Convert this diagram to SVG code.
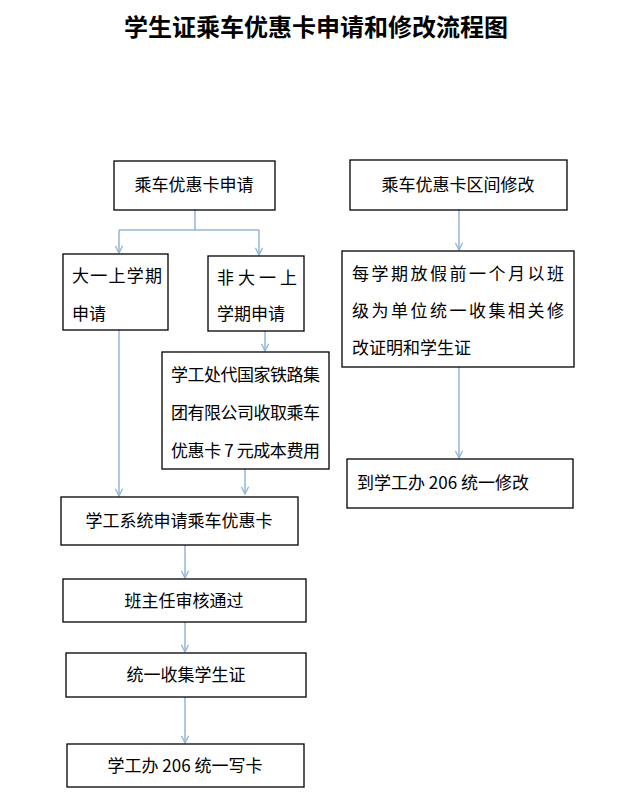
<svg xmlns="http://www.w3.org/2000/svg" width="640" height="807" viewBox="0 0 640 807">
<style>
.b{fill:#fff;stroke:#000;stroke-width:1.3}
.t{font-family:"Noto Sans CJK SC","Liberation Sans",sans-serif;font-size:17px;fill:#000}
.c{stroke:#94b6d8;stroke-width:1.5;fill:none}
</style>
<defs><marker id="a" viewBox="0 0 10 10" refX="9" refY="5" markerWidth="9" markerHeight="9" markerUnits="userSpaceOnUse" orient="auto"><path d="M1 1L9 5L1 9" fill="none" stroke="#94b6d8" stroke-width="1.5"/></marker></defs>
<rect width="640" height="807" fill="#fff"/>
<text x="316" y="36" text-anchor="middle" font-family="Noto Sans CJK SC,sans-serif" font-size="24" font-weight="bold">学生证乘车优惠卡申请和修改流程图</text>
<g id="connectors" class="c">
<path d="M195 210V230M119 230H259M119 230V253" marker-end="url(#a)"/>
<path d="M259 230V255" marker-end="url(#a)"/>
<path d="M265 331V351" marker-end="url(#a)"/>
<path d="M119 330V496" marker-end="url(#a)"/>
<path d="M245 469V494" marker-end="url(#a)"/>
<path d="M185 545V578" marker-end="url(#a)"/>
<path d="M185 622V652" marker-end="url(#a)"/>
<path d="M185 697V743" marker-end="url(#a)"/>
<path d="M459 210V250" marker-end="url(#a)"/>
<path d="M459 367V458" marker-end="url(#a)"/>
</g>
<g id="n1"><rect class="b" x="114" y="161" width="161" height="49"/><text class="t" x="194" y="191" text-anchor="middle">乘车优惠卡申请</text></g>
<g id="n2"><rect class="b" x="63" y="254" width="105" height="76"/><text class="t" x="72" y="282" textLength="90">大一上学期</text><text class="t" x="72" y="320">申请</text></g>
<g id="n3"><rect class="b" x="208" y="256" width="96" height="75"/><text class="t" x="217" y="284" textLength="80">非大一上</text><text class="t" x="217" y="320">学期申请</text></g>
<g id="n4"><rect class="b" x="162" y="352" width="167" height="117"/><text class="t" x="171" y="381" textLength="149">学工处代国家铁路集</text><text class="t" x="171" y="419" textLength="149">团有限公司收取乘车</text><text class="t" x="171" y="457" textLength="149">优惠卡 7 元成本费用</text></g>
<g id="n5"><rect class="b" x="61" y="497" width="237" height="48"/><text class="t" x="179" y="527" text-anchor="middle">学工系统申请乘车优惠卡</text></g>
<g id="n6"><rect class="b" x="63" y="579" width="243" height="43"/><text class="t" x="184" y="607" text-anchor="middle">班主任审核通过</text></g>
<g id="n7"><rect class="b" x="66" y="653" width="240" height="44"/><text class="t" x="186" y="681" text-anchor="middle">统一收集学生证</text></g>
<g id="n8"><rect class="b" x="67" y="744" width="237" height="43"/><text class="t" x="185" y="772" text-anchor="middle">学工办 206 统一写卡</text></g>
<g id="n9"><rect class="b" x="350" y="160" width="217" height="50"/><text class="t" x="458" y="191" text-anchor="middle">乘车优惠卡区间修改</text></g>
<g id="n10"><rect class="b" x="342" y="251" width="232" height="116"/><text class="t" x="352" y="280" textLength="212">每学期放假前一个月以班</text><text class="t" x="352" y="317" textLength="212">级为单位统一收集相关修</text><text class="t" x="352" y="354">改证明和学生证</text></g>
<g id="n11"><rect class="b" x="347" y="459" width="226" height="49"/><text class="t" x="357" y="489">到学工办 206 统一修改</text></g>
</svg>
